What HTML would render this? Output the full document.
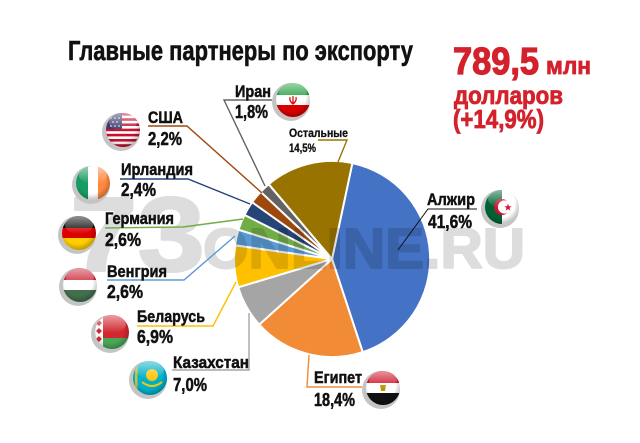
<!DOCTYPE html>
<html><head><meta charset="utf-8"><style>
html,body{margin:0;padding:0;background:#fff;}
svg{display:block;}
text{font-family:"Liberation Sans",sans-serif;font-weight:bold;}
</style></head><body>
<svg width="640" height="443" viewBox="0 0 640 443" xmlns="http://www.w3.org/2000/svg">
<defs>
<clipPath id="c"><circle cx="0" cy="0" r="17"/></clipPath>
<linearGradient id="gl" x1="0" y1="0" x2="0" y2="1">
<stop offset="0" stop-color="#fff" stop-opacity="0.55"/>
<stop offset="1" stop-color="#fff" stop-opacity="0"/>
</linearGradient>
<radialGradient id="sh" cx="0.45" cy="0.4" r="0.6">
<stop offset="0.7" stop-color="#000" stop-opacity="0"/>
<stop offset="1" stop-color="#000" stop-opacity="0.25"/>
</radialGradient>
</defs>
<rect width="640" height="443" fill="#fff"/>

<!-- pie -->
<g stroke="#fff" stroke-width="2" stroke-linejoin="round">
<path d="M332,259 L352.4,163.1 A98,98 0 0 1 362.7,352.1 Z" fill="#4472C4"/>
<path d="M332,259 L362.7,352.1 A98,98 0 0 1 259.2,324.6 Z" fill="#F28B36"/>
<path d="M332,259 L259.2,324.6 A98,98 0 0 1 238.2,287.3 Z" fill="#A5A5A5"/>
<path d="M332,259 L238.2,287.3 A98,98 0 0 1 235.0,245.3 Z" fill="#FFC000"/>
<path d="M332,259 L235.0,245.3 A98,98 0 0 1 238.5,229.7 Z" fill="#5B9BD5"/>
<path d="M332,259 L238.5,229.7 A98,98 0 0 1 244.5,214.9 Z" fill="#70AD47"/>
<path d="M332,259 L244.5,214.9 A98,98 0 0 1 252.1,202.2 Z" fill="#264478"/>
<path d="M332,259 L252.1,202.2 A98,98 0 0 1 260.7,191.8 Z" fill="#9E480E"/>
<path d="M332,259 L260.7,191.8 A98,98 0 0 1 268.7,184.2 Z" fill="#636363"/>
<path d="M332,259 L268.7,184.2 A98,98 0 0 1 352.4,163.1 Z" fill="#997300"/>
</g>

<!-- watermark -->
<g opacity="0.13" fill="#000" stroke="#000" stroke-width="2" stroke-linejoin="round">
<text x="70" y="271" font-size="106" textLength="135" lengthAdjust="spacingAndGlyphs">73</text>
<text x="203" y="268" font-size="57" textLength="322" lengthAdjust="spacingAndGlyphs">ONLINE.RU</text>
</g>

<!-- leader lines -->
<g fill="none" stroke-width="1.4">
<polyline points="272,100 224,100 265,186" stroke="#636363"/>
<polyline points="148,126 187,126 262,193" stroke="#9E480E"/>
<polyline points="120,179 188,179 250,204" stroke="#264478"/>
<polyline points="105,228 183,227 243,219" stroke="#70AD47"/>
<polyline points="107,280 184,280 235,236" stroke="#5B9BD5"/>
<polyline points="137,326 213,326 236,282" stroke="#FFC000"/>
<polyline points="172,370 249,370 249,313" stroke="#A5A5A5"/>
<polyline points="362,387 307,387 309,355" stroke="#F28B36"/>
<polyline points="477,209 428,209 398,250" stroke="#111" stroke-width="1"/>
<polyline points="318,140 347,140 338,162" stroke="#997300"/>
</g>

<!-- title -->
<text x="68" y="60" font-size="28" fill="#111" stroke="#111" stroke-width="0.6" textLength="345" lengthAdjust="spacingAndGlyphs">Главные партнеры по экспорту</text>

<!-- red total -->
<g fill="#D3222C" stroke="#D3222C" stroke-width="0.8">
<text x="453" y="74" font-size="38" stroke-width="1.2" textLength="86" lengthAdjust="spacingAndGlyphs">789,5</text>
<text x="546" y="74" font-size="24" textLength="45" lengthAdjust="spacingAndGlyphs">млн</text>
<text x="454" y="104" font-size="25" textLength="109" lengthAdjust="spacingAndGlyphs">долларов</text>
<text x="453" y="128" font-size="26" textLength="91" lengthAdjust="spacingAndGlyphs">(+14,9%)</text>
</g>

<!-- labels -->
<g fill="#111" stroke="#111" stroke-width="0.5" font-size="17">
<text x="235" y="97" textLength="36" lengthAdjust="spacingAndGlyphs">Иран</text>
<text x="235" y="118" font-size="18" textLength="33" lengthAdjust="spacingAndGlyphs">1,8%</text>
<text x="148" y="123" textLength="35" lengthAdjust="spacingAndGlyphs">США</text>
<text x="148" y="145" font-size="18" textLength="34" lengthAdjust="spacingAndGlyphs">2,2%</text>
<text x="121" y="175" textLength="72" lengthAdjust="spacingAndGlyphs">Ирландия</text>
<text x="121" y="196" font-size="18" textLength="35" lengthAdjust="spacingAndGlyphs">2,4%</text>
<text x="105" y="224" textLength="69" lengthAdjust="spacingAndGlyphs">Германия</text>
<text x="105" y="246" font-size="18" textLength="36" lengthAdjust="spacingAndGlyphs">2,6%</text>
<text x="107" y="277" textLength="60" lengthAdjust="spacingAndGlyphs">Венгрия</text>
<text x="107" y="298" font-size="18" textLength="36" lengthAdjust="spacingAndGlyphs">2,6%</text>
<text x="137" y="322" textLength="68" lengthAdjust="spacingAndGlyphs">Беларусь</text>
<text x="137" y="343" font-size="18" textLength="36" lengthAdjust="spacingAndGlyphs">6,9%</text>
<text x="173" y="368" textLength="76" lengthAdjust="spacingAndGlyphs">Казахстан</text>
<text x="173" y="391" font-size="18" textLength="34" lengthAdjust="spacingAndGlyphs">7,0%</text>
<text x="314" y="383" textLength="48" lengthAdjust="spacingAndGlyphs">Египет</text>
<text x="314" y="406" font-size="18" textLength="41" lengthAdjust="spacingAndGlyphs">18,4%</text>
<text x="427" y="205" textLength="48" lengthAdjust="spacingAndGlyphs">Алжир</text>
<text x="428" y="228" font-size="18" textLength="44" lengthAdjust="spacingAndGlyphs">41,6%</text>
<text x="289" y="137" font-size="12" stroke-width="0.3" textLength="59" lengthAdjust="spacingAndGlyphs">Остальные</text>
<text x="289" y="152" font-size="12" stroke-width="0.3" textLength="27" lengthAdjust="spacingAndGlyphs">14,5%</text>
</g>

<!-- flags -->
<!-- Iran -->
<g transform="translate(293,100)">
<circle cx="-2" cy="2" r="19" fill="#c4c4c4"/>
<g clip-path="url(#c)">
<rect x="-17" y="-17" width="34" height="12" fill="#239F40"/>
<rect x="-17" y="-5" width="34" height="10" fill="#fff"/>
<rect x="-17" y="5" width="34" height="12" fill="#DA0000"/>
<path d="M-3,-3 Q-4,1 0,4 Q4,1 3,-3 M0,-4 L0,4" stroke="#DA0000" stroke-width="1.3" fill="none"/>
<circle r="17" fill="url(#sh)"/>
<ellipse cx="0" cy="-8" rx="14" ry="9" fill="url(#gl)"/>
</g></g>
<!-- USA -->
<g transform="translate(123,130)">
<circle cx="-2" cy="2" r="19" fill="#c4c4c4"/>
<g clip-path="url(#c)">
<rect x="-17" y="-17" width="34" height="34" fill="#C8102E"/>
<g fill="#fff">
<rect x="-17" y="-14.4" width="34" height="2.6"/>
<rect x="-17" y="-9.2" width="34" height="2.6"/>
<rect x="-17" y="-4" width="34" height="2.6"/>
<rect x="-17" y="1.2" width="34" height="2.6"/>
<rect x="-17" y="6.4" width="34" height="2.6"/>
<rect x="-17" y="11.6" width="34" height="2.6"/>
</g>
<rect x="-17" y="-17" width="16" height="16" fill="#3C3B6E"/>
<g fill="#fff"><circle cx="-12" cy="-12" r="0.8"/><circle cx="-8" cy="-12" r="0.8"/><circle cx="-4" cy="-12" r="0.8"/><circle cx="-10" cy="-8" r="0.8"/><circle cx="-6" cy="-8" r="0.8"/><circle cx="-12" cy="-4" r="0.8"/><circle cx="-8" cy="-4" r="0.8"/><circle cx="-4" cy="-4" r="0.8"/></g>
<circle r="17" fill="url(#sh)"/>
<ellipse cx="0" cy="-8" rx="14" ry="9" fill="url(#gl)"/>
</g></g>
<!-- Ireland -->
<g transform="translate(93,183)">
<circle cx="-2" cy="2" r="19" fill="#c4c4c4"/>
<g clip-path="url(#c)">
<rect x="-17" y="-17" width="12" height="34" fill="#169B62"/>
<rect x="-5" y="-17" width="10" height="34" fill="#fff"/>
<rect x="5" y="-17" width="12" height="34" fill="#FF883E"/>
<circle r="17" fill="url(#sh)"/>
<ellipse cx="0" cy="-8" rx="14" ry="9" fill="url(#gl)"/>
</g></g>
<!-- Germany -->
<g transform="translate(79,233)">
<circle cx="-2" cy="2" r="19" fill="#c4c4c4"/>
<g clip-path="url(#c)">
<rect x="-17" y="-17" width="34" height="12" fill="#111"/>
<rect x="-17" y="-5" width="34" height="10" fill="#DD0000"/>
<rect x="-17" y="5" width="34" height="12" fill="#FFCE00"/>
<circle r="17" fill="url(#sh)"/>
<ellipse cx="0" cy="-8" rx="14" ry="9" fill="url(#gl)"/>
</g></g>
<!-- Hungary -->
<g transform="translate(80,285)">
<circle cx="-2" cy="2" r="19" fill="#c4c4c4"/>
<g clip-path="url(#c)">
<rect x="-17" y="-17" width="34" height="12" fill="#CD2A3E"/>
<rect x="-17" y="-5" width="34" height="10" fill="#fff"/>
<rect x="-17" y="5" width="34" height="12" fill="#436F4D"/>
<circle r="17" fill="url(#sh)"/>
<ellipse cx="0" cy="-8" rx="14" ry="9" fill="url(#gl)"/>
</g></g>
<!-- Belarus -->
<g transform="translate(112,332)">
<circle cx="-2" cy="2" r="19" fill="#c4c4c4"/>
<g clip-path="url(#c)">
<rect x="-17" y="-17" width="34" height="23" fill="#D22730"/>
<rect x="-17" y="6" width="34" height="11" fill="#4AA657"/>
<rect x="-17" y="-17" width="8" height="34" fill="#fff"/>
<path d="M-13,-12 l3,3 l-3,3 l-3,-3 z M-13,-4 l3,3 l-3,3 l-3,-3 z M-13,4 l3,3 l-3,3 l-3,-3 z" fill="#D22730"/>
<circle r="17" fill="url(#sh)"/>
<ellipse cx="0" cy="-8" rx="14" ry="9" fill="url(#gl)"/>
</g></g>
<!-- Kazakhstan -->
<g transform="translate(150,378)">
<circle cx="-2" cy="2" r="19" fill="#c4c4c4"/>
<g clip-path="url(#c)">
<rect x="-17" y="-17" width="34" height="34" fill="#00AFCA"/>
<circle cx="2" cy="-3" r="6" fill="#FEC50C"/>
<path d="M-8,4 Q2,12 12,4" stroke="#FEC50C" stroke-width="2" fill="none"/>
<rect x="-15" y="-12" width="2.5" height="24" fill="#FEC50C" opacity="0.8"/>
<circle r="17" fill="url(#sh)"/>
<ellipse cx="0" cy="-8" rx="14" ry="9" fill="url(#gl)"/>
</g></g>
<!-- Egypt -->
<g transform="translate(383,388)">
<circle cx="-2" cy="2" r="19" fill="#c4c4c4"/>
<g clip-path="url(#c)">
<rect x="-17" y="-17" width="34" height="12" fill="#CE1126"/>
<rect x="-17" y="-5" width="34" height="10" fill="#fff"/>
<rect x="-17" y="5" width="34" height="12" fill="#111"/>
<path d="M-3,-3 L3,-3 L2,3 L-2,3 Z" fill="#C09300"/>
<circle r="17" fill="url(#sh)"/>
<ellipse cx="0" cy="-8" rx="14" ry="9" fill="url(#gl)"/>
</g></g>
<!-- Algeria -->
<g transform="translate(502,207)">
<circle cx="-2" cy="2" r="19" fill="#c4c4c4"/>
<g clip-path="url(#c)">
<rect x="-17" y="-17" width="17" height="34" fill="#006233"/>
<rect x="0" y="-17" width="17" height="34" fill="#fff"/>
<circle cx="0" cy="0" r="8" fill="#D21034"/>
<circle cx="2.5" cy="0" r="6.6" fill="#fff"/>
<polygon points="6,-3.5 7,-0.8 9.8,-0.8 7.5,0.9 8.4,3.6 6,2 3.6,3.6 4.5,0.9 2.2,-0.8 5,-0.8" fill="#D21034"/>
<circle r="17" fill="url(#sh)"/>
<ellipse cx="0" cy="-8" rx="14" ry="9" fill="url(#gl)"/>
</g></g>
</svg>
</body></html>
